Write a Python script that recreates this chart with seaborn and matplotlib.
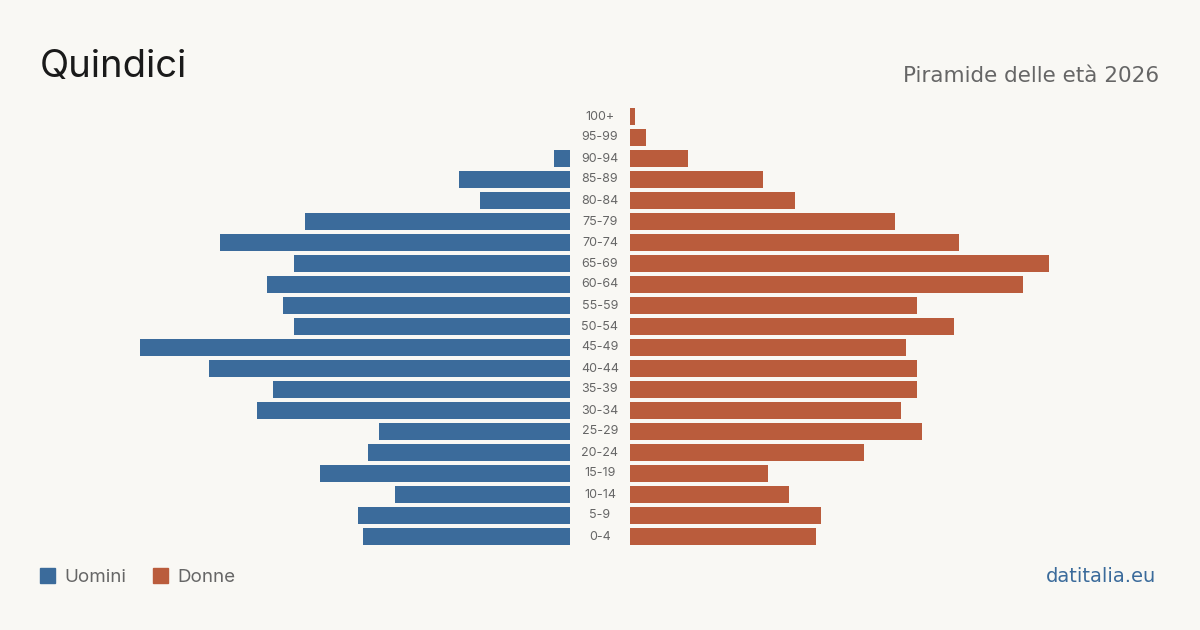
import matplotlib
matplotlib.use("Agg")
import matplotlib.pyplot as plt
import seaborn as sns
import pandas as pd
from matplotlib.patches import Rectangle

age_groups = ["100+", "95-99", "90-94", "85-89", "80-84", "75-79", "70-74", "65-69",
              "60-64", "55-59", "50-54", "45-49", "40-44", "35-39", "30-34", "25-29",
              "20-24", "15-19", "10-14", "5-9", "0-4"]
men = [0, 0, 3, 21, 17, 50, 66, 52, 57, 54, 52, 81, 68, 56, 59, 36, 38, 47, 33, 40, 39]
women = [1, 3, 11, 25, 31, 50, 62, 79, 74, 54, 61, 52, 54, 54, 51, 55, 44, 26, 30, 36, 35]

title = "Quindici"
subtitle = "Piramide delle età 2026"
source = "datitalia.eu"
legend_labels = ["Uomini", "Donne"]

BG = "#f9f8f4"
BLUE = "#3b6b9b"
ORANGE = "#ba5c3c"
GRAY = "#666666"

sns.set_theme(style="white")
plt.rcParams["font.family"] = ["Inter", "DejaVu Sans"]

df = pd.DataFrame({"age": age_groups, "men": men, "women": women})

W, H = 1200, 630
fig = plt.figure(figsize=(W / 100, H / 100), dpi=100, facecolor=BG)

top_px, bot_px = 106, 547
y0 = 1 - bot_px / H
hgt = (bot_px - top_px) / H
xmax = 81

axL = fig.add_axes([140 / W, y0, (570 - 140) / W, hgt])
axR = fig.add_axes([630 / W, y0, (1060 - 630) / W, hgt])

sns.barplot(data=df, y="age", x="men", orient="h", color=BLUE, width=0.8,
            saturation=1, ax=axL, order=age_groups, linewidth=0, edgecolor="none")
sns.barplot(data=df, y="age", x="women", orient="h", color=ORANGE, width=0.8,
            saturation=1, ax=axR, order=age_groups, linewidth=0, edgecolor="none")

for ax in (axL, axR):
    ax.set_facecolor("none")
    ax.set_ylim(len(age_groups) - 0.5, -0.5)
    ax.set_xlabel("")
    ax.set_ylabel("")
    ax.set_xticks([])
    ax.set_yticks([])
    for s in ax.spines.values():
        s.set_visible(False)
axL.set_xlim(xmax, 0)
axR.set_xlim(0, xmax)

# center labels
for i, lab in enumerate(age_groups):
    yc = 1 - (top_px + 21 * i + 10.5) / H
    fig.text(0.5, yc, lab, ha="center", va="center", fontsize=9, color=GRAY)

fig.text(40 / W, 1 - 67 / H, title, ha="left", va="center", fontsize=27.5, color="#1a1a1a")
fig.text(1159 / W, 1 - 76 / H, subtitle, ha="right", va="center", fontsize=15.5,
         color=GRAY, family=["DejaVu Sans"])

# legend
for k, (lab, col, x) in enumerate(zip(legend_labels, [BLUE, ORANGE], [40, 153])):
    fig.patches.append(Rectangle((x / W, 1 - 583 / H), 15 / W, 15 / H,
                                 transform=fig.transFigure, color=col, figure=fig))
    fig.text((x + 24) / W, 1 - 577 / H, lab, ha="left", va="center", fontsize=13.5, color=GRAY)

fig.text(1156 / W, 1 - 577 / H, source, ha="right", va="center", fontsize=14,
         color=BLUE, family=["DejaVu Sans"])

fig.savefig("out.png", dpi=100, facecolor=BG)
